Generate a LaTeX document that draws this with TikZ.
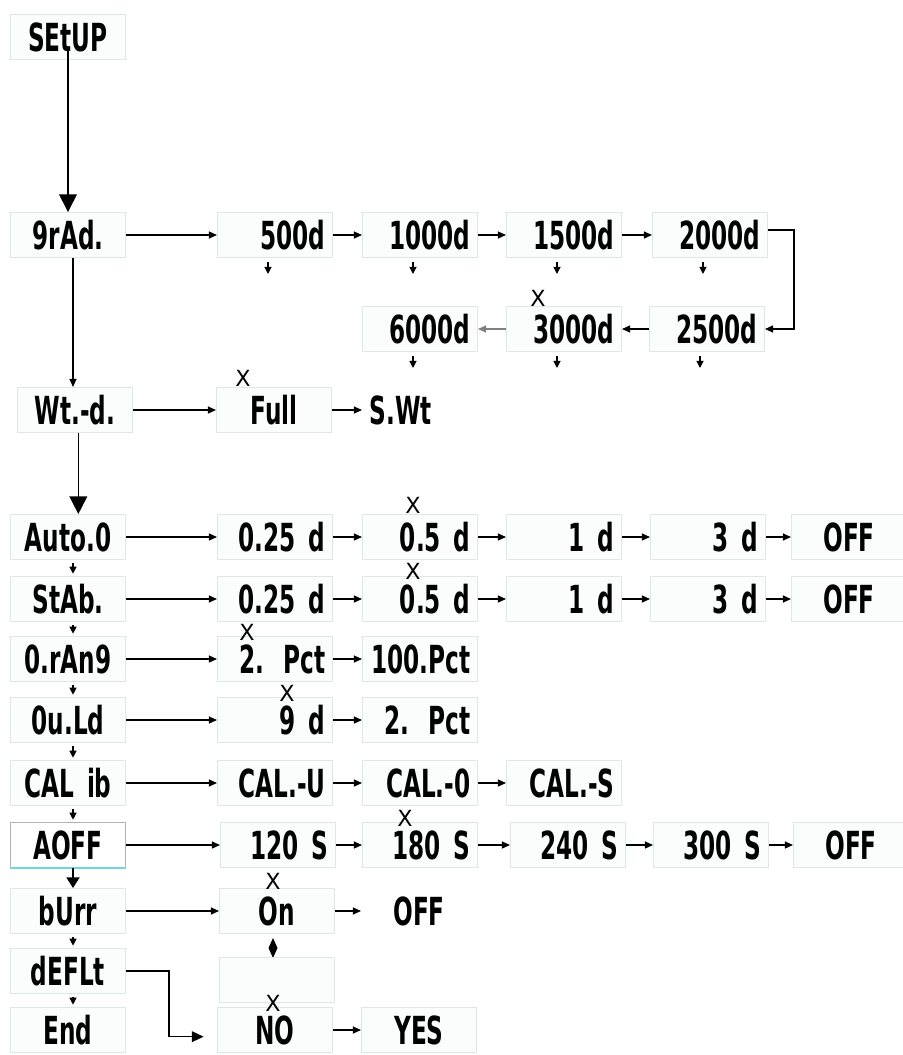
\documentclass[tikz,border=0pt]{standalone}
\usepackage{fontspec}
\setmainfont{DejaVu Sans}
\newfontfamily\lcdfont[FakeStretch=0.6]{DejaVu Sans Bold}
\usepackage{xcolor}
\definecolor{boxline}{RGB}{222,230,230}
\definecolor{boxfill}{RGB}{251,253,253}
\definecolor{lcdcyan}{RGB}{110,215,225}
\usetikzlibrary{arrows.meta}

\begin{document}
\begin{tikzpicture}[x=0.3mm, y=-0.3mm,
    lcd/.style={draw=boxline, fill=boxfill, line width=0.8pt, minimum height=13.5mm,
      text width=30.3mm, inner xsep=2.1mm, align=right, font=\fontsize{33}{33}\lcdfont},
    menu/.style={lcd, align=center},
    mid/.style={lcd, align=center},
    xmark/.style={font=\fontsize{19}{19}\selectfont, inner sep=0pt},
    flow/.style={line width=1.2pt, -{Triangle[length=7pt,width=6pt]}},
    bigflow/.style={line width=1.4pt, -{Triangle[length=15pt,width=15pt]}},
    tick/.style={line width=1pt, -{Triangle[length=6pt,width=6pt]}}]
  \useasboundingbox (0,0) rectangle (903,1055);

  % menu column
  \node[menu] (setup)  at (68,37)   {SEtUP};
  \node[menu] (grad)   at (68,235)  {9rAd.};
  \node[menu] (wtd)    at (75,410)  {Wt.-d.};
  \node[menu] (auto0)  at (68,537)  {Auto.0};
  \node[menu] (stab)   at (68,599)  {StAb.};
  \node[menu] (orang)  at (68,659)  {0.rAn9};
  \node[menu] (ould)   at (68,720)  {0u.Ld};
  \node[menu] (calib)  at (68,783)  {CAL ib};
  \node[menu, draw=black!30, fill=white] (aoff) at (68,845) {AOFF};
  \node[menu] (burr)   at (68,911)  {bUrr};
  \node[menu] (deflt)  at (68,971)  {dEFLt};
  \node[menu] (finish) at (68,1030) {End};
  \draw[lcdcyan, line width=1.2pt] (aoff.south west) -- (aoff.south east);

  % graduation
  \node[lcd] (d500)  at (275,235) {500d};
  \node[lcd] (d1000) at (420,235) {1000d};
  \node[lcd] (d1500) at (564,235) {1500d};
  \node[lcd] (d2000) at (710,235) {2000d};
  \node[lcd] (d6000) at (420,329) {6000d};
  \node[lcd] (d3000) at (564,329) {3000d};
  \node[lcd] (d2500) at (707,329) {2500d};

  % weighing mode
  \node[mid] (full) at (274,410) {Full};
  \node[lcd, align=left, draw=none, fill=none] (swt) at (420,410) {S.Wt};

  % auto zero and stable
  \node[lcd] (a025) at (275,537) {0.25 d};
  \node[lcd] (a05)  at (420,537) {0.5 d};
  \node[lcd] (a1)   at (564,537) {1 d};
  \node[lcd] (a3)   at (708,537) {3 d};
  \node[mid] (aoffv) at (849,537) {OFF};
  \node[lcd] (s025) at (275,599) {0.25 d};
  \node[lcd] (s05)  at (420,599) {0.5 d};
  \node[lcd] (s1)   at (564,599) {1 d};
  \node[lcd] (s3)   at (708,599) {3 d};
  \node[mid] (soff) at (849,599) {OFF};

  % range, overload, calibration
  \node[lcd] (r2pct) at (275,659) {2. Pct};
  \node[lcd] (r100)  at (420,659) {100.Pct};
  \node[lcd] (o9d)   at (275,720) {9 d};
  \node[lcd] (o2pct) at (420,720) {2. Pct};
  \node[lcd] (calu)  at (275,783) {CAL.-U};
  \node[lcd] (calo)  at (420,783) {CAL.-0};
  \node[lcd] (cals)  at (564,783) {CAL.-S};

  % auto off
  \node[lcd] (t120) at (278,845) {120 S};
  \node[lcd] (t180) at (420,845) {180 S};
  \node[lcd] (t240) at (568,845) {240 S};
  \node[lcd] (t300) at (711,845) {300 S};
  \node[mid] (toff) at (851,845) {OFF};

  % buzzer and default
  \node[mid] (on) at (277,911) {On};
  \node[mid, draw=none, fill=none] (burroff) at (419,911) {OFF};
  \fill (273,938) -- (277.5,948) -- (273,958) -- (268.5,948) -- cycle;
  \node[lcd] (blank) at (277,980) {};
  \node[mid] (no)  at (275,1030) {NO};
  \node[mid] (yes) at (419,1030) {YES};

  % default marks
  \node[xmark] (xfull) at (243,378) {X};
  \node[xmark] (x3000) at (538,298) {X};
  \node[xmark] (xa05)  at (413,505) {X};
  \node[xmark] (xs05)  at (413,571) {X};
  \node[xmark] (xr2)   at (247,632) {X};
  \node[xmark] (xo9)   at (287,693) {X};
  \node[xmark] (x180)  at (405,818) {X};
  \node[xmark] (xon)   at (273,881) {X};
  \node[xmark] (xno)   at (273,1003) {X};

  % menu flow
  \draw[bigflow] ([yshift=-3mm]setup.center) -- (grad.north);
  \draw[flow] ([xshift=1.5mm]grad.south) -- ([xshift=1.5mm]grad.south |- wtd.north);
  \draw[bigflow] ([xshift=1mm]wtd.south) -- ([xshift=1mm]wtd.south |- auto0.north);
  \foreach \a/\b in {auto0/stab, stab/orang, orang/ould, ould/calib, calib/aoff, burr/deflt, deflt/finish}
    \draw[tick, shorten <=3pt, shorten >=2pt] ([xshift=1.5mm]\a.south) -- ([xshift=1.5mm]\b.north);
  \draw[bigflow, -{Triangle[length=9pt,width=11pt]}] ([xshift=1.5mm]aoff.south) -- ([xshift=1.5mm]burr.north);

  % rows
  \draw[flow] (grad.east) -- (d500.west);
  \foreach \a/\b in {d500/d1000, d1000/d1500, d1500/d2000}
    \draw[flow] (\a.east) -- (\b.west);
  \draw[flow] ([yshift=1.5mm]d2000.east) -- ++(26,0) |- (d2500.east);
  \draw[flow] (d2500.west) -- (d3000.east);
  \draw[flow, gray] (d3000.west) -- (d6000.east);
  \foreach \n in {d500, d1000, d1500, d2000, d6000, d3000, d2500}
    \draw[tick] ([xshift=-2.1mm, yshift=-1.2mm]\n.south) -- ++(0,12);

  \draw[flow] (wtd.east) -- (full.west);
  \draw[flow] (full.east) -- (swt.west);
  \draw[flow] (auto0.east) -- (a025.west);
  \draw[flow] (stab.east) -- (s025.west);
  \foreach \a/\b in {a025/a05, a05/a1, a1/a3, a3/aoffv, s025/s05, s05/s1, s1/s3, s3/soff}
    \draw[flow] (\a.east) -- (\b.west);
  \draw[flow] (orang.east) -- (r2pct.west);
  \draw[flow] (r2pct.east) -- (r100.west);
  \draw[flow] (ould.east) -- (o9d.west);
  \draw[flow] (o9d.east) -- (o2pct.west);
  \draw[flow] (calib.east) -- (calu.west);
  \draw[flow] (calu.east) -- (calo.west);
  \draw[flow] (calo.east) -- (cals.west);
  \draw[flow] (aoff.east) -- (t120.west);
  \foreach \a/\b in {t120/t180, t180/t240, t240/t300, t300/toff}
    \draw[flow] (\a.east) -- (\b.west);
  \draw[flow] (burr.east) -- (on.west);
  \draw[flow] (on.east) -- (burroff.west);
  \draw[flow, shorten >=4mm, -{Triangle[length=10pt,width=9pt]}] (deflt.east) -- ++(43,0) |- ([yshift=-2mm]no.west);
  \draw[flow] (no.east) -- (yes.west);
\end{tikzpicture}
\end{document}
